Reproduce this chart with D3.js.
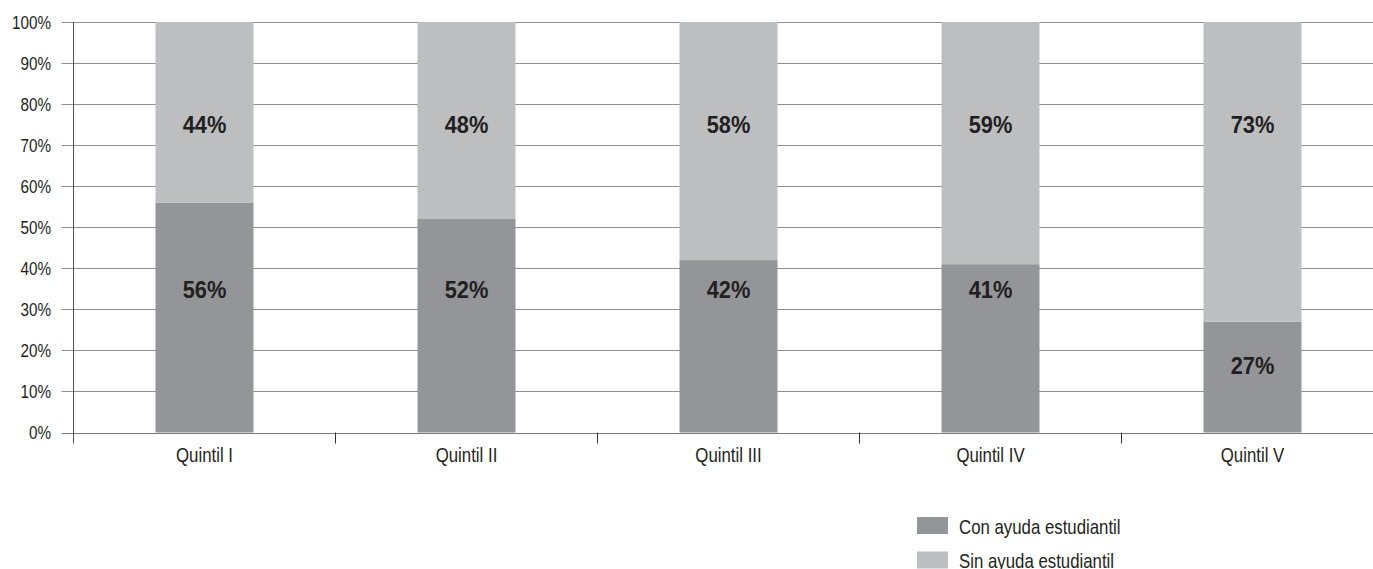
<!DOCTYPE html>
<html>
<head>
<meta charset="utf-8">
<script src="https://cdn.jsdelivr.net/npm/d3@7"></script>
<style>
  html, body { margin: 0; padding: 0; background: #fff; }
  svg text { font-family: "Liberation Sans", Arial, sans-serif; fill: #231f20; }
</style>
</head>
<body>
<svg id="chart" width="1373" height="569"></svg>
<script>
// Quintiles of household income
const categories = ["Quintil I", "Quintil II", "Quintil III", "Quintil IV", "Quintil V"];
// Share of students with / without financial aid (%)
const conAyuda = [56, 52, 42, 41, 27];
const sinAyuda = [44, 48, 58, 59, 73];
const seriesNames = ["Con ayuda estudiantil", "Sin ayuda estudiantil"];
const yTicks = [0, 10, 20, 30, 40, 50, 60, 70, 80, 90, 100];

const colors = ["#939598", "#bcbec0"];

const svg = d3.select("#chart");
const plot = { left: 73.5, top: 22, bottom: 432.5, right: 1383.5 };

const x = d3.scaleBand().domain(categories).range([plot.left, plot.right]).padding(0);
const y = d3.scaleLinear().domain([0, 100]).range([plot.bottom, plot.top]);
const barW = x.bandwidth() * 0.374;

// condensed type: horizontally squeezed glyphs placed at (px, py)
function place(sel, px, py, sx) {
  return sel.attr("transform", (d, i) => `translate(${px(d, i)},${py(d, i)}) scale(${sx},1)`);
}

// horizontal gridlines (with short tick stubs left of the axis)
svg.append("g").selectAll("line").data(yTicks).join("line")
  .attr("x1", plot.left - 12).attr("x2", 1373)
  .attr("y1", d => Math.round(y(d)) + 0.5).attr("y2", d => Math.round(y(d)) + 0.5)
  .attr("stroke", d => d === 0 ? "#7a7a7a" : "#8f8f8f").attr("stroke-width", 1);

// y tick labels
svg.append("g").selectAll("text").data(yTicks).join("text")
  .call(place, () => 51, d => y(d), 0.82)
  .attr("dy", "0.35em").attr("text-anchor", "end").attr("font-size", 18.6)
  .text(d => d + "%");

// stacked bars
const stacked = categories.map((c, i) => ({ c, a: conAyuda[i], b: sinAyuda[i] }));
const gBars = svg.append("g");
gBars.selectAll("rect.con").data(stacked).join("rect").attr("class", "con")
  .attr("x", d => x(d.c) + (x.bandwidth() - barW) / 2).attr("width", barW)
  .attr("y", d => y(d.a)).attr("height", d => y(0) - y(d.a))
  .attr("fill", colors[0]);
gBars.selectAll("rect.sin").data(stacked).join("rect").attr("class", "sin")
  .attr("x", d => x(d.c) + (x.bandwidth() - barW) / 2).attr("width", barW)
  .attr("y", d => y(d.a + d.b)).attr("height", d => y(d.a) - y(d.a + d.b))
  .attr("fill", colors[1]);

// redraw the baseline over the bars
svg.append("line")
  .attr("x1", plot.left).attr("x2", 1373)
  .attr("y1", Math.round(y(0)) + 0.5).attr("y2", Math.round(y(0)) + 0.5)
  .attr("stroke", "#7a7a7a");

// value labels
const labelStyle = sel => sel.attr("text-anchor", "middle").attr("font-size", 23)
  .attr("font-weight", "bold").attr("dy", "0.35em");
gBars.selectAll("text.sinLbl").data(stacked).join("text").attr("class", "sinLbl")
  .call(place, d => x(d.c) + x.bandwidth() / 2, () => y(75), 0.95)
  .call(labelStyle).text(d => d.b + "%");
gBars.selectAll("text.conLbl").data(stacked).join("text").attr("class", "conLbl")
  .call(place, d => x(d.c) + x.bandwidth() / 2, d => y(d.a < 35 ? d.a * 0.6 : 34.7), 0.95)
  .call(labelStyle).text(d => d.a + "%");

// y axis line
svg.append("line")
  .attr("x1", plot.left).attr("x2", plot.left)
  .attr("y1", plot.top).attr("y2", plot.bottom + 11)
  .attr("stroke", "#555");

// category separator ticks
const seps = categories.slice(1).map(c => x(c));
svg.append("g").selectAll("line").data(seps).join("line")
  .attr("x1", d => d).attr("x2", d => d)
  .attr("y1", plot.bottom).attr("y2", plot.bottom + 11)
  .attr("stroke", "#333");

// category labels
svg.append("g").selectAll("text").data(categories).join("text")
  .call(place, d => x(d) + x.bandwidth() / 2, () => 462, 0.82)
  .attr("text-anchor", "middle").attr("font-size", 20.5)
  .text(d => d);

// legend
const legend = svg.append("g").attr("transform", "translate(917,517)");
const li = legend.selectAll("g").data(seriesNames).join("g")
  .attr("transform", (d, i) => `translate(0,${i * 34.5})`);
li.append("rect").attr("width", 31).attr("height", 17).attr("fill", (d, i) => colors[i]);
li.append("text").call(place, () => 42, () => 16.5, 0.82)
  .attr("font-size", 20.5).text(d => d);
</script>
</body>
</html>
